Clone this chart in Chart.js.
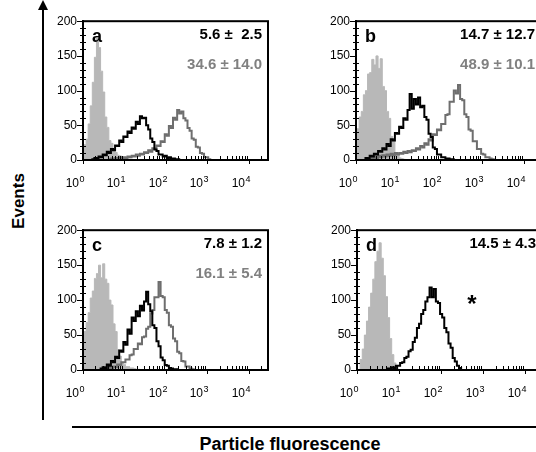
<!DOCTYPE html>
<html>
<head>
<meta charset="utf-8">
<script src="https://cdn.jsdelivr.net/npm/chart.js@4"></script>
<style>
  body { margin: 0; width: 536px; height: 452px; overflow: hidden; background: #fff; position: relative; font-family: "Liberation Sans", Arial, sans-serif; }
  canvas { position: absolute; }
  .abs { position: absolute; }
  #vline { left: 42px; top: 8px; width: 2px; height: 412px; background: #000; }
  #arrow { left: 38px; top: 0; width: 0; height: 0; border-left: 5px solid transparent; border-right: 5px solid transparent; border-bottom: 10px solid #000; }
  #hline { left: 72px; top: 426px; width: 470px; height: 2px; background: #000; }
  #ylab { left: 19px; top: 201px; transform: translate(-50%, -50%) rotate(-90deg); font-weight: bold; font-size: 17px; white-space: nowrap; }
  #xlab { left: 290px; top: 444px; transform: translate(-50%, -50%); font-weight: bold; font-size: 18px; white-space: nowrap; }
</style>
</head>
<body>
<div class="abs" id="vline"></div>
<div class="abs" id="arrow"></div>
<div class="abs" id="hline"></div>
<div class="abs" id="ylab">Events</div>
<div class="abs" id="xlab">Particle fluorescence</div>
<canvas id="pa" width="230" height="190" style="left:40px;top:8px"></canvas>
<canvas id="pb" width="233" height="190" style="left:313px;top:8px"></canvas>
<canvas id="pc" width="230" height="191" style="left:40px;top:217px"></canvas>
<canvas id="pd" width="233" height="191" style="left:314px;top:217px"></canvas>
<script>
// fluorescence bins, log10 units (10^0 .. 10^3.4)
const bins = [0.00, 0.05, 0.10, 0.15, 0.20, 0.25, 0.30, 0.35, 0.40, 0.45,
              0.50, 0.55, 0.60, 0.65, 0.70, 0.75, 0.80, 0.85, 0.90, 0.95,
              1.00, 1.05, 1.10, 1.15, 1.20, 1.25, 1.30, 1.35, 1.40, 1.45,
              1.50, 1.55, 1.60, 1.65, 1.70, 1.75, 1.80, 1.85, 1.90, 1.95,
              2.00, 2.05, 2.10, 2.15, 2.20, 2.25, 2.30, 2.35, 2.40, 2.45,
              2.50, 2.55, 2.60, 2.65, 2.70, 2.75, 2.80, 2.85, 2.90, 2.95,
              3.00, 3.05, 3.10, 3.15, 3.20, 3.25, 3.30, 3.35, 3.40];
const N = null;
const yTicks = [0, 50, 100, 150, 200];
const decades = [0, 1, 2, 3, 4];

// panel a
const ctrlA = [15, 22, 30, 52, 78, 112, 148, 176, 162, 128,
               98, 62, 47, 28, 24, 14, 11, 7, 6, 4,
               3, 2, 1, 1, 0];
const blackA = [N, N, N, N, 0, 1, 3, 2, 5, 4,
                8, 7, 12, 10, 16, 14, 21, 20, 28, 26,
                34, 33, 41, 39, 47, 45, 55, 52, 63, 60,
                61, 50, 44, 31, 26, 15, 13, 8, 8, 5,
                6, 3, 4, 2, 2, 1, 1, 0];
const grayA = [N, N, N, N, N, N, N, N, N, N,
               N, N, 0, 1, 2, 1, 3, 2, 4, 2,
               4, 3, 5, 4, 6, 5, 8, 6, 9, 8,
               11, 10, 14, 12, 17, 16, 21, 20, 27, 26,
               37, 35, 49, 46, 61, 58, 72, 67, 70, 60,
               57, 46, 42, 31, 29, 19, 18, 10, 9, 4,
               4, 1, 0];
// panel b
const ctrlB = [35, 45, 62, 70, 94, 100, 124, 126, 145, 137,
               150, 132, 146, 106, 100, 70, 60, 34, 28, 10,
               7, 3, 2, 1, 0];
const blackB = [N, N, N, N, 0, 3, 2, 6, 5, 9,
                8, 13, 12, 17, 15, 23, 20, 30, 28, 39,
                38, 48, 46, 60, 58, 72, 95, 74, 88, 80,
                90, 76, 78, 62, 58, 38, 33, 18, 16, 8,
                8, 4, 4, 2, 2, 1, 1, 0];
const grayB = [N, N, N, N, N, N, 0, 3, 2, 5,
               3, 6, 4, 7, 5, 8, 6, 9, 7, 10,
               8, 10, 9, 12, 10, 13, 11, 14, 13, 17,
               15, 20, 18, 24, 22, 30, 28, 37, 36, 44,
               43, 52, 52, 65, 66, 84, 84, 100, 96, 108,
               88, 86, 66, 62, 44, 42, 27, 27, 16, 16,
               9, 8, 4, 4, 2, 1, 0];
// panel c
const ctrlC = [50, 55, 68, 82, 103, 113, 131, 138, 150, 132,
               152, 130, 124, 100, 93, 66, 55, 29, 20, 10,
               8, 5, 5, 3, 3, 2, 1, 1, 0];
const blackC = [N, N, N, N, N, N, N, N, 0, 2,
                4, 3, 8, 6, 13, 11, 19, 17, 28, 26,
                40, 36, 58, 52, 75, 70, 84, 77, 92, 85,
                98, 112, 94, 84, 64, 60, 41, 34, 18, 14,
                7, 6, 3, 2, 1, 1, 0];
const grayC = [N, N, N, N, N, N, N, N, N, N,
               0, 2, 1, 4, 2, 5, 4, 8, 7, 11,
               11, 15, 15, 21, 22, 30, 30, 38, 37, 47,
               48, 59, 62, 81, 86, 104, 104, 126, 106, 104,
               86, 82, 64, 62, 45, 41, 26, 24, 13, 12,
               5, 5, 2, 1, 0];
// panel d
const ctrlD = [N, 0, 15, 30, 50, 70, 90, 110, 130, 155,
               170, 182, 160, 135, 105, 75, 45, 22, 10, 4,
               0];
const blackD = [N, N, N, N, N, N, N, N, N, N,
                N, N, N, N, 0, 2, 1, 4, 3, 6,
                6, 10, 11, 17, 19, 27, 29, 40, 46, 60,
                66, 80, 86, 98, 104, 118, 104, 116, 98, 96,
                80, 75, 60, 54, 38, 32, 17, 12, 6, 3,
                0];

const pts = vals => vals.map((v, i) => ({ x: bins[i], y: v }));

const panelDeco = {
  id: 'panelDeco',
  afterDraw(chart, args, opts) {
    const { ctx, chartArea: a, scales: { x, y } } = chart;
    ctx.save();
    ctx.strokeStyle = '#000';
    ctx.lineWidth = 2;
    ctx.strokeRect(a.left, a.top, a.right - a.left, a.bottom - a.top);
    ctx.lineWidth = 1;
    const seg = (x1, y1, x2, y2) => { ctx.beginPath(); ctx.moveTo(x1, y1); ctx.lineTo(x2, y2); ctx.stroke(); };
    // y ticks, minor every 10
    for (let v = 0; v <= 200; v += 10) {
      const py = Math.round(y.getPixelForValue(v)) + 0.5;
      if (v % 50 === 0) seg(a.left - 6, py, a.left, py);
      else seg(a.left - 3, py, a.left + 3, py);
    }
    // x ticks and 10^n labels
    ctx.fillStyle = '#000';
    ctx.textBaseline = 'alphabetic';
    ctx.textAlign = 'right';
    decades.forEach(n => {
      const px = Math.round(x.getPixelForValue(n)) + 0.5;
      seg(px, a.bottom, px, a.bottom + 4);
      for (let k = 2; k <= 9; k++) {
        const lv = n + Math.log10(k);
        if (lv > x.max) break;
        const qx = Math.round(x.getPixelForValue(lv)) + 0.5;
        seg(qx, a.bottom - 4, qx, a.bottom);
      }
      ctx.font = '9px "Liberation Sans", Arial, sans-serif';
      const sw = ctx.measureText(String(n)).width;
      ctx.fillText(String(n), px + 1, a.bottom + 22);
      ctx.font = '12px "Liberation Sans", Arial, sans-serif';
      ctx.fillText('10', px + 0.5 - sw, a.bottom + 27);
    });
    // panel letter
    ctx.textAlign = 'left';
    ctx.textBaseline = 'middle';
    ctx.font = 'bold 18px "Liberation Sans", Arial, sans-serif';
    ctx.fillText(opts.letter, a.left + 9, a.top + 16);
    // mean values
    ctx.textAlign = 'right';
    ctx.font = 'bold 15px "Liberation Sans", Arial, sans-serif';
    opts.lines.forEach((ln, i) => {
      ctx.fillStyle = ln[1];
      ctx.fillText(ln[0], a.left + 179, a.top + 14 + i * 30);
    });
    if (opts.star) {
      ctx.fillStyle = '#000';
      ctx.textAlign = 'center';
      ctx.textBaseline = 'alphabetic';
      ctx.font = 'bold 24px "Liberation Sans", Arial, sans-serif';
      ctx.fillText('*', a.left + 115, a.top + 82);
    }
    ctx.restore();
  }
};

function makePanel(id, ctrl, black, gray, deco) {
  const datasets = [{
    data: pts(ctrl), order: 3, fill: 'origin',
    backgroundColor: '#b8b8b8', borderColor: '#b8b8b8', borderWidth: 1
  }];
  if (gray) datasets.push({
    data: pts(gray), order: 2, fill: false,
    borderColor: '#6e6e6e', borderWidth: 2
  });
  datasets.push({
    data: pts(black), order: 1, fill: false,
    borderColor: '#000', borderWidth: 2
  });
  new Chart(document.getElementById(id), {
    type: 'line',
    data: { datasets },
    options: {
      responsive: false,
      animation: false,
      layout: { padding: { top: 12, right: 2, left: 0, bottom: 0 } },
      elements: { point: { radius: 0 }, line: { tension: 0, stepped: 'middle' } },
      plugins: { legend: { display: false }, tooltip: { enabled: false }, panelDeco: deco },
      scales: {
        x: {
          type: 'linear', min: 0, max: 4.47,
          grid: { drawOnChartArea: false, drawTicks: false },
          border: { color: '#000', width: 2 },
          ticks: { display: false },
          afterFit: s => { s.height = 38; }
        },
        y: {
          min: 0, max: 200,
          afterBuildTicks: s => { s.ticks = yTicks.map(v => ({ value: v })); },
          grid: { drawOnChartArea: false, drawTicks: false },
          border: { color: '#000', width: 2 },
          ticks: { color: '#000', padding: 6, font: { family: '"Liberation Sans", Arial, sans-serif', size: 12 } },
          afterFit: s => { s.width = 43; }
        }
      }
    },
    plugins: [panelDeco]
  });
}

makePanel('pa', ctrlA, blackA, grayA, { letter: 'a', lines: [['5.6 ±  2.5', '#000'], ['34.6 ± 14.0', '#808080']] });
makePanel('pb', ctrlB, blackB, grayB, { letter: 'b', lines: [['14.7 ± 12.7', '#000'], ['48.9 ± 10.1', '#808080']] });
makePanel('pc', ctrlC, blackC, grayC, { letter: 'c', lines: [['7.8 ± 1.2', '#000'], ['16.1 ± 5.4', '#808080']] });
makePanel('pd', ctrlD, blackD, null, { letter: 'd', lines: [['14.5 ± 4.3', '#000']], star: true });
</script>
</body>
</html>
